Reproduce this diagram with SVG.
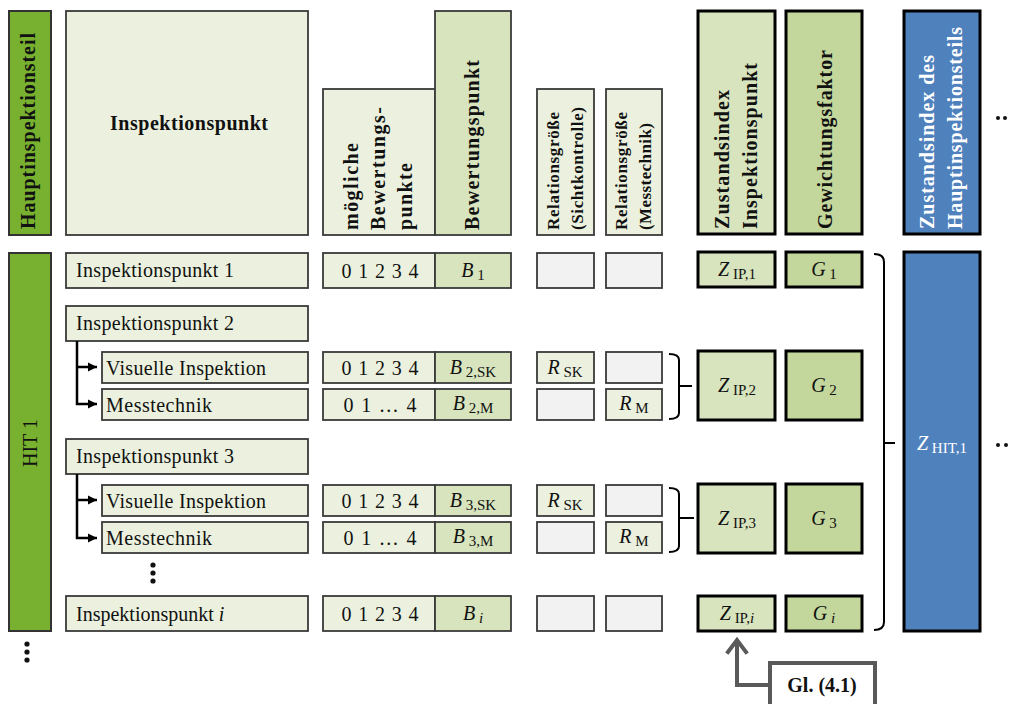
<svg xmlns="http://www.w3.org/2000/svg" width="1011" height="704" viewBox="0 0 1011 704">
<style>
text{font-family:"Liberation Serif","Times New Roman",serif;fill:#111;font-size:20px}
.b{font-weight:bold}
.w{fill:#fff}
.lt{fill:#EBF1DE;stroke:#3a3a3a;stroke-width:1.8}
.md{fill:#D7E4BD;stroke:#3a3a3a;stroke-width:1.8}
.gy{fill:#F2F2F2;stroke:#3a3a3a;stroke-width:1.8}
.zk{fill:#D7E4BD;stroke:#000;stroke-width:3}
.gk{fill:#C3D69B;stroke:#000;stroke-width:3}
.bl{fill:#4F81BD;stroke:#000;stroke-width:3}
.hg{fill:#77B12F;stroke:#333;stroke-width:2}
.ln{fill:none;stroke:#000;stroke-width:2.5}
.br{fill:none;stroke:#000;stroke-width:2}
.it{font-style:italic}
.sub{font-size:15px}
.rel{font-size:17px;font-weight:bold}
</style>
<defs>
<marker id="ah" markerUnits="userSpaceOnUse" markerWidth="10" markerHeight="10" refX="9" refY="5" orient="auto">
<path d="M0,0.5 L9,5 L0,9.5 Z" fill="#000"/>
</marker>
</defs>

<!-- header -->
<g id="h-haupt"><rect class="hg" x="9" y="11" width="42" height="224"/>
<text class="b" transform="translate(35,229) rotate(-90)" textLength="196" lengthAdjust="spacing">Hauptinspektionsteil</text></g>
<g id="h-ip"><rect class="lt" x="66" y="11" width="242" height="224"/>
<text class="b" x="189" y="130" text-anchor="middle" textLength="158" lengthAdjust="spacing">Inspektionspunkt</text></g>
<g id="h-moegl"><rect class="lt" x="323" y="89" width="112" height="146"/>
<text class="b" transform="translate(358,230) rotate(-90)" textLength="87" lengthAdjust="spacing">mögliche</text>
<text class="b" transform="translate(385,230) rotate(-90)" textLength="123" lengthAdjust="spacing">Bewertungs-</text>
<text class="b" transform="translate(412,230) rotate(-90)" textLength="67" lengthAdjust="spacing">punkte</text></g>
<g id="h-bew"><rect class="md" x="435" y="11" width="76" height="224"/>
<text class="b" transform="translate(479,230) rotate(-90)" textLength="170" lengthAdjust="spacing">Bewertungspunkt</text></g>
<g id="h-relsk"><rect class="lt" x="537" y="89" width="57" height="146"/>
<text class="rel" transform="translate(559,230) rotate(-90)" textLength="118" lengthAdjust="spacing">Relationsgröße</text>
<text class="rel" transform="translate(583,230) rotate(-90)" textLength="123" lengthAdjust="spacing">(Sichtkontrolle)</text></g>
<g id="h-relm"><rect class="lt" x="606" y="89" width="56" height="146"/>
<text class="rel" transform="translate(627,230) rotate(-90)" textLength="118" lengthAdjust="spacing">Relationsgröße</text>
<text class="rel" transform="translate(651,230) rotate(-90)" textLength="107" lengthAdjust="spacing">(Messtechnik)</text></g>
<g id="h-zip"><rect class="zk" x="698" y="11" width="77" height="223"/>
<text class="b" transform="translate(729,229) rotate(-90)" textLength="139" lengthAdjust="spacing">Zustandsindex</text>
<text class="b" transform="translate(757,229) rotate(-90)" textLength="166" lengthAdjust="spacing">Inspektionspunkt</text></g>
<g id="h-gew"><rect class="gk" x="786" y="11" width="76" height="223"/>
<text class="b" transform="translate(832,229) rotate(-90)" textLength="179" lengthAdjust="spacing">Gewichtungsfaktor</text></g>
<g id="h-hit"><rect class="bl" x="904" y="11" width="76" height="223"/>
<text class="b w" transform="translate(934,229) rotate(-90)" textLength="174" lengthAdjust="spacing">Zustandsindex des</text>
<text class="b w" transform="translate(962,229) rotate(-90)" textLength="202" lengthAdjust="spacing">Hauptinspektionsteils</text></g>
<g id="h-more"><circle cx="998" cy="118" r="2" fill="#111"/><circle cx="1005" cy="118" r="2" fill="#111"/></g>

<!-- HIT 1 -->
<g id="hit1"><rect class="hg" x="9" y="253" width="42" height="378"/>
<text transform="translate(37,443) rotate(-90)" text-anchor="middle">HIT 1</text></g>
<g id="hit-more"><circle cx="27" cy="644" r="2.6" fill="#111"/><circle cx="27" cy="652" r="2.6" fill="#111"/><circle cx="27" cy="660" r="2.6" fill="#111"/></g>

<!-- IP 1 -->
<g id="ip1"><rect class="lt" x="66" y="253" width="242" height="35"/>
<text x="76" y="277" textLength="158" lengthAdjust="spacing">Inspektionspunkt 1</text></g>
<g id="ip1-mb"><rect class="lt" x="323" y="253" width="112" height="35"/>
<text x="380" y="278" text-anchor="middle" textLength="77" lengthAdjust="spacing">0 1 2 3 4</text></g>
<g id="ip1-b"><rect class="md" x="435" y="253" width="76" height="35"/>
<text x="473" y="277" text-anchor="middle"><tspan class="it">B</tspan><tspan class="sub" dy="3"> 1</tspan></text></g>
<g id="ip1-rsk"><rect class="gy" x="537" y="253" width="57" height="35"/></g>
<g id="ip1-rm"><rect class="gy" x="606" y="253" width="56" height="35"/></g>
<g id="ip1-z"><rect class="zk" x="698" y="252" width="77" height="35"/>
<text x="737" y="276" text-anchor="middle"><tspan class="it">Z</tspan><tspan class="sub" dy="3"> IP,1</tspan></text></g>
<g id="ip1-g"><rect class="gk" x="786" y="252" width="76" height="35"/>
<text x="824" y="276" text-anchor="middle"><tspan class="it">G</tspan><tspan class="sub" dy="3"> 1</tspan></text></g>

<!-- IP 2 -->
<g id="ip2"><rect class="lt" x="66" y="306" width="242" height="35"/>
<text x="76" y="330" textLength="158" lengthAdjust="spacing">Inspektionspunkt 2</text></g>
<g id="ip2-vi"><rect class="lt" x="102" y="352" width="206" height="31"/>
<text x="106" y="375" textLength="160" lengthAdjust="spacing">Visuelle Inspektion</text></g>
<g id="ip2-mt"><rect class="lt" x="102" y="389" width="206" height="31"/>
<text x="106" y="412" textLength="106" lengthAdjust="spacing">Messtechnik</text></g>
<g id="ip2-vi-mb"><rect class="lt" x="323" y="352" width="112" height="31"/>
<text x="380" y="375" text-anchor="middle" textLength="77" lengthAdjust="spacing">0 1 2 3 4</text></g>
<g id="ip2-vi-b"><rect class="md" x="435" y="352" width="76" height="31"/>
<text x="473" y="374" text-anchor="middle"><tspan class="it">B</tspan><tspan class="sub" dy="3"> 2,SK</tspan></text></g>
<g id="ip2-mt-mb"><rect class="lt" x="323" y="389" width="112" height="31"/>
<text x="380" y="412" text-anchor="middle" textLength="73" lengthAdjust="spacing">0 1 … 4</text></g>
<g id="ip2-mt-b"><rect class="md" x="435" y="389" width="76" height="31"/>
<text x="473" y="410" text-anchor="middle"><tspan class="it">B</tspan><tspan class="sub" dy="3"> 2,M</tspan></text></g>
<g id="ip2-vi-rsk"><rect class="lt" x="537" y="352" width="57" height="31"/>
<text x="565" y="374" text-anchor="middle"><tspan class="it">R</tspan><tspan class="sub" dy="3"> SK</tspan></text></g>
<g id="ip2-vi-rm"><rect class="gy" x="606" y="352" width="56" height="31"/></g>
<g id="ip2-mt-rsk"><rect class="gy" x="537" y="389" width="57" height="31"/></g>
<g id="ip2-mt-rm"><rect class="lt" x="606" y="389" width="56" height="31"/>
<text x="634" y="410" text-anchor="middle"><tspan class="it">R</tspan><tspan class="sub" dy="3"> M</tspan></text></g>
<g id="ip2-z"><rect class="zk" x="698" y="351" width="77" height="69"/>
<text x="737" y="392" text-anchor="middle"><tspan class="it">Z</tspan><tspan class="sub" dy="3"> IP,2</tspan></text></g>
<g id="ip2-g"><rect class="gk" x="786" y="351" width="76" height="69"/>
<text x="824" y="392" text-anchor="middle"><tspan class="it">G</tspan><tspan class="sub" dy="3"> 2</tspan></text></g>

<!-- IP 3 -->
<g id="ip3"><rect class="lt" x="66" y="439" width="242" height="35"/>
<text x="76" y="463" textLength="158" lengthAdjust="spacing">Inspektionspunkt 3</text></g>
<g id="ip3-vi"><rect class="lt" x="102" y="485" width="206" height="31"/>
<text x="106" y="508" textLength="160" lengthAdjust="spacing">Visuelle Inspektion</text></g>
<g id="ip3-mt"><rect class="lt" x="102" y="522" width="206" height="31"/>
<text x="106" y="545" textLength="106" lengthAdjust="spacing">Messtechnik</text></g>
<g id="ip3-vi-mb"><rect class="lt" x="323" y="485" width="112" height="31"/>
<text x="380" y="508" text-anchor="middle" textLength="77" lengthAdjust="spacing">0 1 2 3 4</text></g>
<g id="ip3-vi-b"><rect class="md" x="435" y="485" width="76" height="31"/>
<text x="473" y="507" text-anchor="middle"><tspan class="it">B</tspan><tspan class="sub" dy="3"> 3,SK</tspan></text></g>
<g id="ip3-mt-mb"><rect class="lt" x="323" y="522" width="112" height="31"/>
<text x="380" y="545" text-anchor="middle" textLength="73" lengthAdjust="spacing">0 1 … 4</text></g>
<g id="ip3-mt-b"><rect class="md" x="435" y="522" width="76" height="31"/>
<text x="473" y="543" text-anchor="middle"><tspan class="it">B</tspan><tspan class="sub" dy="3"> 3,M</tspan></text></g>
<g id="ip3-vi-rsk"><rect class="lt" x="537" y="485" width="57" height="31"/>
<text x="565" y="507" text-anchor="middle"><tspan class="it">R</tspan><tspan class="sub" dy="3"> SK</tspan></text></g>
<g id="ip3-vi-rm"><rect class="gy" x="606" y="485" width="56" height="31"/></g>
<g id="ip3-mt-rsk"><rect class="gy" x="537" y="522" width="57" height="31"/></g>
<g id="ip3-mt-rm"><rect class="lt" x="606" y="522" width="56" height="31"/>
<text x="634" y="543" text-anchor="middle"><tspan class="it">R</tspan><tspan class="sub" dy="3"> M</tspan></text></g>
<g id="ip3-z"><rect class="zk" x="698" y="484" width="77" height="69"/>
<text x="737" y="525" text-anchor="middle"><tspan class="it">Z</tspan><tspan class="sub" dy="3"> IP,3</tspan></text></g>
<g id="ip3-g"><rect class="gk" x="786" y="484" width="76" height="69"/>
<text x="824" y="525" text-anchor="middle"><tspan class="it">G</tspan><tspan class="sub" dy="3"> 3</tspan></text></g>
<g id="ip-more"><circle cx="153" cy="565" r="2.6" fill="#111"/><circle cx="153" cy="573" r="2.6" fill="#111"/><circle cx="153" cy="581" r="2.6" fill="#111"/></g>

<!-- IP i -->
<g id="ipi"><rect class="lt" x="66" y="596" width="242" height="35"/>
<text x="76" y="621">Inspektionspunkt <tspan class="it">i</tspan></text></g>
<g id="ipi-mb"><rect class="lt" x="323" y="596" width="112" height="35"/>
<text x="380" y="621" text-anchor="middle" textLength="77" lengthAdjust="spacing">0 1 2 3 4</text></g>
<g id="ipi-b"><rect class="md" x="435" y="596" width="76" height="35"/>
<text x="473" y="620" text-anchor="middle"><tspan class="it">B</tspan><tspan class="sub it" dy="3"> i</tspan></text></g>
<g id="ipi-rsk"><rect class="gy" x="537" y="596" width="57" height="35"/></g>
<g id="ipi-rm"><rect class="gy" x="606" y="596" width="56" height="35"/></g>
<g id="ipi-z"><rect class="zk" x="698" y="596" width="77" height="35"/>
<text x="737" y="620" text-anchor="middle"><tspan class="it">Z</tspan><tspan class="sub" dy="3"> IP,</tspan><tspan class="sub it">i</tspan></text></g>
<g id="ipi-g"><rect class="gk" x="786" y="596" width="76" height="35"/>
<text x="824" y="620" text-anchor="middle"><tspan class="it">G</tspan><tspan class="sub it" dy="3"> i</tspan></text></g>

<!-- HIT Z -->
<g id="zhit"><rect class="bl" x="904" y="252" width="76" height="379"/>
<text class="w" x="942" y="450" text-anchor="middle"><tspan class="it">Z</tspan><tspan class="sub" dy="3"> HIT,1</tspan></text></g>
<g id="zhit-more"><circle cx="998" cy="445" r="2" fill="#111"/><circle cx="1006" cy="445" r="2" fill="#111"/></g>

<!-- Gl box -->
<g id="gl"><rect x="770" y="663" width="105" height="50" fill="#fff" stroke="#595959" stroke-width="4"/>
<text class="b" x="822" y="692" text-anchor="middle">Gl. (4.1)</text></g>

<!-- connectors -->
<g id="connectors">
<path class="ln" d="M77,341 L77,404 L97,404" marker-end="url(#ah)"/>
<path class="ln" d="M77,367 L97,367" marker-end="url(#ah)"/>
<path class="ln" d="M77,474 L77,538 L97,538" marker-end="url(#ah)"/>
<path class="ln" d="M77,500 L97,500" marker-end="url(#ah)"/>
<path class="br" d="M669,354 Q679,354 679,360 L679,413 Q679,419 669,419 M679,386 L692,386"/>
<path class="br" d="M669,488 Q679,488 679,494 L679,546 Q679,552 669,552 M679,518 L694,518"/>
<path class="br" d="M874,254 Q884,254 884,262 L884,622 Q884,630 874,630 M884,443 L895,443"/>
<path d="M770,685 L737,685 L737,640" fill="none" stroke="#595959" stroke-width="4"/>
<path d="M728,652 L737,640 L746,652" fill="none" stroke="#595959" stroke-width="4" stroke-linecap="square"/>
</g>
</svg>
